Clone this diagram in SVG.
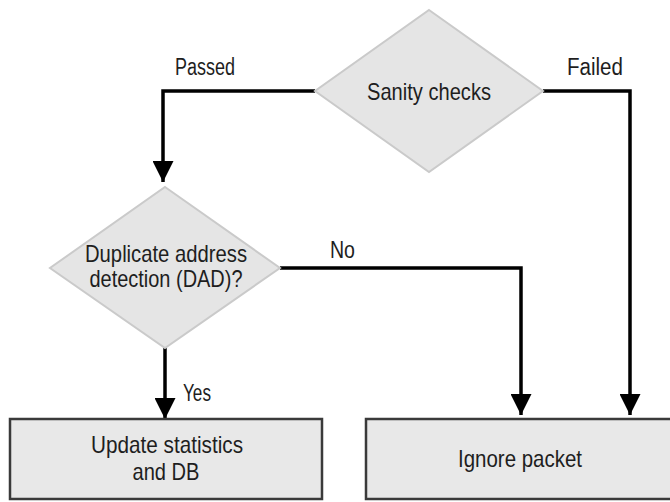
<svg xmlns="http://www.w3.org/2000/svg" width="670" height="502" viewBox="0 0 670 502">
<defs>
<marker id="ah" markerWidth="6" markerHeight="6" refX="6" refY="3" orient="auto" markerUnits="strokeWidth"><path d="M0,0 L6,3 L0,6 z" fill="#000"/></marker>
<style>
.t{font-family:"Liberation Sans",Arial,sans-serif;font-size:24px;fill:#1e1e1e;text-anchor:middle}
.l{font-family:"Liberation Sans",Arial,sans-serif;font-size:23px;fill:#1e1e1e}
.d{fill:#e5e5e5;stroke:#cacaca;stroke-width:2}
.b{fill:#e8e8e8;stroke:#3a3a3a;stroke-width:2.5}
.c{fill:none;stroke:#000;stroke-width:3.5;marker-end:url(#ah)}
</style>
</defs>
<rect width="670" height="502" fill="#fff"/>
<g id="connectors">
<path class="c" d="M315,91 H163 V182"/>
<path class="c" d="M543,91 H630 V415"/>
<path class="c" d="M280,268 H521 V415"/>
<path class="c" d="M165,347 V419"/>
<text class="l" x="175" y="75" textLength="60" lengthAdjust="spacingAndGlyphs">Passed</text>
<text class="l" x="567" y="75" textLength="56" lengthAdjust="spacingAndGlyphs">Failed</text>
<text class="l" x="330" y="258" textLength="25" lengthAdjust="spacingAndGlyphs">No</text>
<text class="l" x="183" y="401" textLength="28" lengthAdjust="spacingAndGlyphs">Yes</text>
</g>
<g id="sanity">
<polygon class="d" points="429,10 543,91 429,172 315,91"/>
<text class="t" x="429" y="100" textLength="124" lengthAdjust="spacingAndGlyphs">Sanity checks</text>
</g>
<g id="dad">
<polygon class="d" points="165,187 280,268 165,348 50,268"/>
<text class="t" x="166" y="262" textLength="162" lengthAdjust="spacingAndGlyphs">Duplicate address</text>
<text class="t" x="166" y="287" textLength="153" lengthAdjust="spacingAndGlyphs">detection (DAD)?</text>
</g>
<g id="update">
<rect class="b" x="10" y="419" width="312" height="80"/>
<text class="t" x="167" y="453" textLength="152" lengthAdjust="spacingAndGlyphs">Update statistics</text>
<text class="t" x="166" y="480" textLength="67" lengthAdjust="spacingAndGlyphs">and DB</text>
</g>
<g id="ignore">
<rect class="b" x="366" y="419" width="310" height="80"/>
<text class="t" x="520" y="467" textLength="124" lengthAdjust="spacingAndGlyphs">Ignore packet</text>
</g>
</svg>
